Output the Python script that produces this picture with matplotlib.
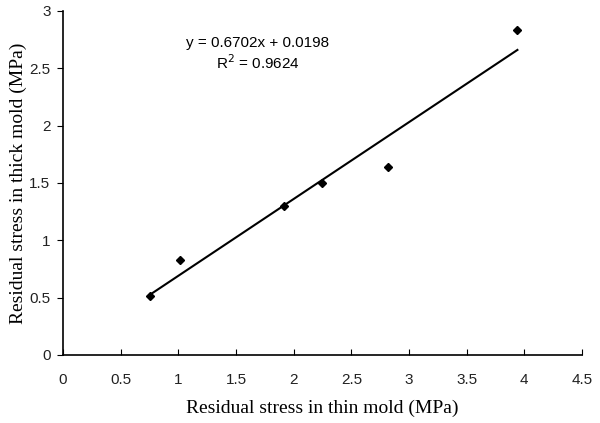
import numpy as np
import matplotlib.pyplot as plt

# datos
thin = [0.75, 1.015, 1.92, 2.245, 2.82, 3.94]
thick = [0.515, 0.826, 1.30, 1.497, 1.636, 2.836]
slope = 0.6702
intercept = 0.0198
r2 = 0.9624

fig = plt.figure(figsize=(6, 4.23), dpi=100)
ax = fig.add_axes([0.105, 0.161, 0.865, 0.813])

xf = np.array([min(thin), max(thin)])
ax.plot(xf, slope * xf + intercept, color="black", lw=1.5)
ax.plot(thin, thick, "D", color="black", markersize=4.5)

ax.set_xlim(0, 4.5)
ax.set_ylim(0, 3)
ax.set_xticks(np.arange(0, 4.51, 0.5))
ax.set_yticks(np.arange(0, 3.01, 0.5))
ax.set_xticklabels(["0", "0.5", "1", "1.5", "2", "2.5", "3", "3.5", "4", "4.5"])
ax.set_yticklabels(["0", "0.5", "1", "1.5", "2", "2.5", "3"])
for lab in ax.get_xticklabels() + ax.get_yticklabels():
    lab.set_family("Liberation Sans")
    lab.set_fontsize(11)
    lab.set_color("#222222")
ax.tick_params(axis="x", direction="in", length=4, pad=13)
ax.tick_params(axis="y", direction="out", length=4, pad=5)

ax.spines["top"].set_visible(False)
ax.spines["right"].set_visible(False)
ax.spines["left"].set_linewidth(1.2)
ax.spines["bottom"].set_linewidth(1.2)

ax.set_xlabel("Residual stress in thin mold (MPa)", family="Liberation Serif", fontsize=14, labelpad=9)
ax.set_ylabel("Residual stress in thick mold (MPa)", family="Liberation Serif", fontsize=14, labelpad=2)

ax.text(1.69, 2.72, "y = %.4fx + %.4f" % (slope, intercept), family="Liberation Sans",
        fontsize=11, ha="center", va="center")
ax.text(1.69, 2.55, "R$^2$ = %.4f" % r2, family="Liberation Sans",
        fontsize=11, ha="center", va="center")

fig.savefig("out.png")
